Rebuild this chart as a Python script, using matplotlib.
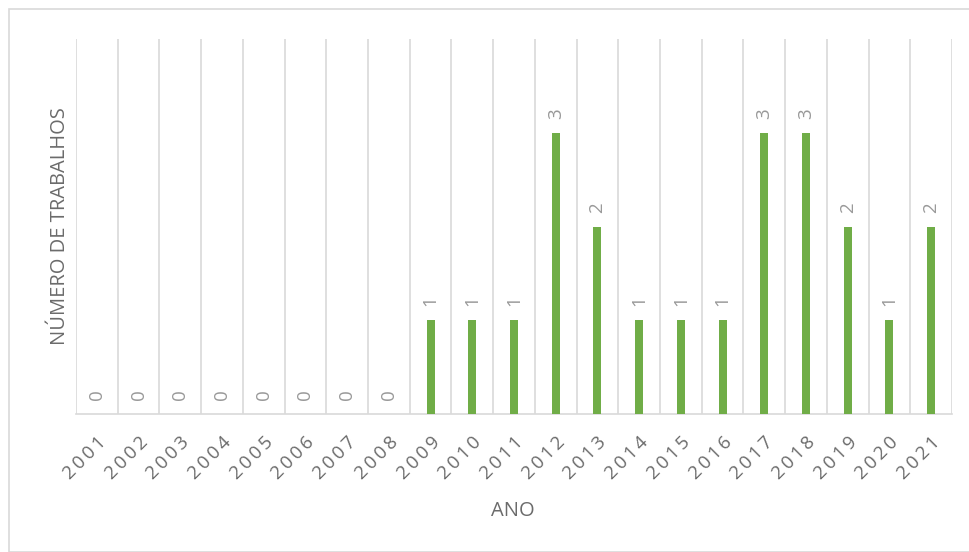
import matplotlib.pyplot as plt
from matplotlib.patches import Rectangle

anos = [str(a) for a in range(2001, 2022)]
trabalhos = [0, 0, 0, 0, 0, 0, 0, 0, 1, 1, 1, 3, 2, 1, 1, 1, 3, 3, 2, 1, 2]

plt.rcParams['font.family'] = ['Open Sans', 'DejaVu Sans']

fig = plt.figure(figsize=(9.69, 5.52), dpi=100)
ax = fig.add_axes([76 / 969, 1 - 414 / 552, (952 - 76) / 969, (414 - 39) / 552])

# moldura do gráfico
fig.patches.append(Rectangle((9 / 969, 0), 1, 1 - 9 / 552, transform=fig.transFigure,
                             fill=False, edgecolor='#d9d9d9', linewidth=1.2))

x = list(range(len(anos)))
ax.bar(x, trabalhos, width=0.19, color='#70ad47', zorder=3)

for xi, v in zip(x, trabalhos):
    ax.annotate(str(v), (xi, v), xytext=(0, 10), textcoords='offset points',
                ha='center', va='bottom', rotation=90, fontsize=13.5,
                color='#999999')

ax.set_xlim(-0.5, len(anos) - 0.5)
ax.set_ylim(0, 4)
ax.set_xticks(x)
# espaçamento entre dígitos como no Excel
ax.set_xticklabels(['\u2009'.join(a) for a in anos], rotation=45, ha='right',
                   rotation_mode='anchor', fontsize=13.5, color='#6b6b6b')
ax.tick_params(axis='x', length=0, pad=14)
ax.set_yticks([])

ax.set_xticks([i - 0.5 for i in range(len(anos) + 1)], minor=True)
ax.grid(True, which='minor', axis='x', color='#d9d9d9', linewidth=1.2, zorder=0)
ax.tick_params(axis='x', which='minor', length=0)

for s in ['top', 'right', 'left']:
    ax.spines[s].set_visible(False)
ax.spines['bottom'].set_color('#d9d9d9')
ax.spines['bottom'].set_linewidth(1.2)

ax.set_xlabel('ANO', fontsize=14.5, color='#6b6b6b')
ax.set_ylabel('NÚMERO DE TRABALHOS', fontsize=14.5, color='#6b6b6b')
ax.xaxis.set_label_coords((513 - 76) / 876, -(511 - 414) / 375)
ax.yaxis.set_label_coords((60 - 76) / 876, 0.5)
ax.xaxis.label.set_va('center')
ax.yaxis.label.set_va('center')

fig.savefig('out.png', dpi=100)
